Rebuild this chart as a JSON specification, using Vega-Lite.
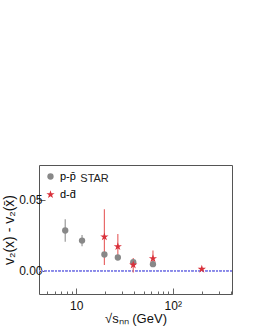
{
  "$schema": "https://vega.github.io/schema/vega-lite/v6.json",
  "width": 193,
  "height": 129,
  "autosize": {"type": "none"},
  "padding": {"left": 39, "top": 165, "right": 21, "bottom": 33},
  "background": "white",
  "config": {
    "view": {"stroke": "#555", "strokeWidth": 1},
    "font": "Liberation Sans",
    "axis": {"domain": false, "grid": false, "labelColor": "#111", "titleColor": "#111", "tickColor": "#666"}
  },
  "data": {"values": [
    {"s": 7.7, "v": 0.0284, "lo": 0.0204, "hi": 0.0364, "sp": "p-p̄"},
    {"s": 11.5, "v": 0.0213, "lo": 0.0173, "hi": 0.0253, "sp": "p-p̄"},
    {"s": 19.6, "v": 0.0115, "lo": 0.0100, "hi": 0.0130, "sp": "p-p̄"},
    {"s": 27, "v": 0.0094, "lo": 0.0082, "hi": 0.0106, "sp": "p-p̄"},
    {"s": 39, "v": 0.0061, "lo": 0.0051, "hi": 0.0071, "sp": "p-p̄"},
    {"s": 62.4, "v": 0.0047, "lo": 0.0039, "hi": 0.0055, "sp": "p-p̄"},
    {"s": 19.6, "v": 0.0240, "lo": 0.0042, "hi": 0.0434, "sp": "d-d̄"},
    {"s": 27, "v": 0.0171, "lo": 0.0089, "hi": 0.0260, "sp": "d-d̄"},
    {"s": 39, "v": 0.0042, "lo": -0.0012, "hi": 0.0090, "sp": "d-d̄"},
    {"s": 62.4, "v": 0.0087, "lo": 0.0037, "hi": 0.0143, "sp": "d-d̄"},
    {"s": 200, "v": 0.0012, "lo": 0.0006, "hi": 0.0018, "sp": "d-d̄"}
  ]},
  "layer": [
    {
      "mark": {"type": "rule", "strokeDash": [2, 1.5], "color": "#8a8ae8", "strokeWidth": 0.8},
      "encoding": {"y": {"datum": 0, "type": "quantitative"}}
    },
    {
      "transform": [{"filter": "datum.sp == 'p-p̄'"}],
      "mark": {"type": "rule", "strokeWidth": 1.2, "color": "#999999"},
      "encoding": {
        "x": {"field": "s", "type": "quantitative"},
        "y": {"field": "lo", "type": "quantitative"},
        "y2": {"field": "hi"}
      }
    },
    {
      "transform": [{"filter": "datum.sp == 'd-d̄'"}],
      "mark": {"type": "rule", "strokeWidth": 1.2, "color": "#e86a6a"},
      "encoding": {
        "x": {"field": "s", "type": "quantitative"},
        "y": {"field": "lo", "type": "quantitative"},
        "y2": {"field": "hi"}
      }
    },
    {
      "mark": {"type": "point", "filled": true, "opacity": 1},
      "encoding": {
        "x": {"field": "s", "type": "quantitative", "scale": {"type": "log", "domain": [4.12, 411], "nice": false},
          "axis": {"title": "√sₙₙ (GeV)", "titleFontSize": 13, "titleFontWeight": "normal", "titlePadding": 1,
            "values": [5, 6, 7, 8, 9, 10, 20, 30, 40, 50, 60, 70, 80, 90, 100, 200, 300, 400],
            "labelExpr": "datum.value == 10 ? '10' : datum.value == 100 ? '10²' : ''",
            "labelFontSize": 12, "labelPadding": 12, "labelFlush": false,
            "tickSize": {"condition": {"test": "datum.value == 10 || datum.value == 100", "value": -6}, "value": -3}}},
        "y": {"field": "v", "type": "quantitative", "scale": {"domain": [-0.0163, 0.0745], "nice": false, "zero": false},
          "axis": {"title": "v₂(x) - v₂(x̄)", "titleFontSize": 14, "titleFontWeight": "normal", "titlePadding": 2,
            "values": [0, 0.05], "format": ".2f",
            "labelFontSize": 12, "labelPadding": 3, "tickSize": -6}},
        "shape": {"field": "sp", "type": "nominal", "scale": {"domain": ["p-p̄", "d-d̄"], "range": ["circle", "M0,-1L0.2245,-0.309L0.951,-0.309L0.3633,0.118L0.5878,0.809L0,0.382L-0.5878,0.809L-0.3633,0.118L-0.951,-0.309L-0.2245,-0.309Z"]}},
        "color": {"field": "sp", "type": "nominal", "scale": {"domain": ["p-p̄", "d-d̄"], "range": ["#888888", "#d9303a"]},
          "legend": {"title": null, "orient": "top-left", "offset": 6, "padding": 0, "labelFontSize": 11, "symbolSize": 40, "rowPadding": 6, "labelOffset": 4}},
        "size": {"field": "sp", "type": "nominal", "scale": {"domain": ["p-p̄", "d-d̄"], "range": [40, 75]}}
      }
    },
    {
      "data": {"values": [{"label": "STAR"}]},
      "mark": {"type": "text", "fontSize": 11, "fontWeight": "normal", "color": "#222", "align": "center"},
      "encoding": {
        "x": {"datum": 15.5, "type": "quantitative"},
        "y": {"datum": 0.0648, "type": "quantitative"},
        "text": {"field": "label"}
      }
    }
  ]
}
